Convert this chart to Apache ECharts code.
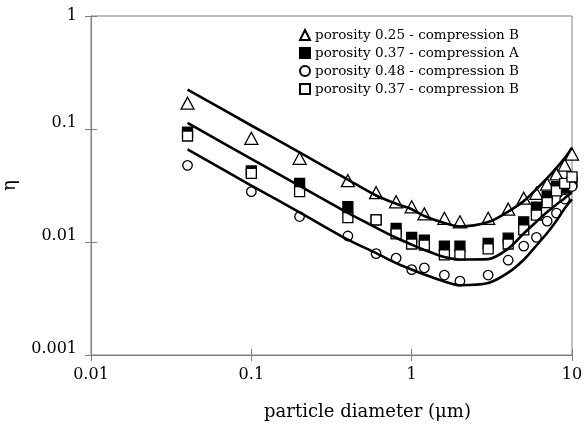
<!DOCTYPE html>
<html>
<head>
<meta charset="utf-8">
<script src="https://cdn.jsdelivr.net/npm/echarts@6/dist/echarts.min.js"></script>
<style>
  html, body { margin: 0; padding: 0; background: #fff; }
  #main { width: 585px; height: 426px; }
</style>
</head>
<body>
<div id="main"></div>
<script>
  // particle diameters (um)
  var diameters = [0.04, 0.1, 0.2, 0.4, 0.6, 0.8, 1, 1.2, 1.6, 2, 3, 4, 5, 6, 7, 8, 9, 10];

  // measured efficiencies
  var por025B = [0.169, 0.0827, 0.055, 0.0349, 0.0273, 0.0227, 0.0205, 0.0177, 0.0162, 0.0151, 0.0162, 0.0195, 0.0244, 0.027, 0.0326, 0.040, 0.048, 0.060];
  var por037A = [0.094, 0.0425, 0.033, 0.0205, 0.0157, 0.0132, 0.011, 0.0104, 0.0092, 0.0092, 0.0097, 0.0108, 0.0151, 0.0203, 0.0252, 0.0309, 0.030, 0.034];
  var por048B = [0.0477, 0.0279, 0.0168, 0.0113, 0.0079, 0.0072, 0.0057, 0.0059, 0.0051, 0.0045, 0.0051, 0.0069, 0.0092, 0.011, 0.0153, 0.018, 0.024, 0.031];
  var por037B = [0.0867, 0.0405, 0.0279, 0.0164, 0.0157, 0.0118, 0.0096, 0.0094, 0.0077, 0.0077, 0.0087, 0.0096, 0.0128, 0.0173, 0.0223, 0.0284, 0.033, 0.0377];

  // model curves
  var modelTop = [0.2235, 0.1074, 0.0620, 0.0356, 0.0258, 0.0218, 0.0195, 0.0170, 0.0147, 0.0137, 0.0150, 0.0186, 0.0230, 0.0294, 0.0367, 0.0452, 0.0552, 0.0684];
  var modelMid = [0.1132, 0.0544, 0.0314, 0.0181, 0.0134, 0.0109, 0.00947, 0.00851, 0.00736, 0.00699, 0.00706, 0.00874, 0.0119, 0.0151, 0.0184, 0.0215, 0.0244, 0.0275];
  var modelLow = [0.0659, 0.0316, 0.0183, 0.0105, 0.00798, 0.0065, 0.0057, 0.00515, 0.00448, 0.00414, 0.00433, 0.00535, 0.00697, 0.00931, 0.0120, 0.0154, 0.0198, 0.0239];

  var legendNames = [
    'porosity 0.25 - compression B',
    'porosity 0.37 - compression A',
    'porosity 0.48 - compression B',
    'porosity 0.37 - compression B'
  ];

  function pairs(ys) {
    return diameters.map(function (x, i) { return [x, ys[i]]; });
  }

  var myChart = echarts.init(document.getElementById('main'));
  var font = 'DejaVu Serif';
  var gray = '#808080';

  function scatter(name, ys, symbol, size, fill) {
    return {
      name: name,
      type: 'scatter',
      data: pairs(ys),
      symbol: symbol,
      symbolSize: size,
      itemStyle: { color: fill, borderColor: '#000', borderWidth: 1.3, opacity: 1 },
      z: 3
    };
  }

  function model(ys) {
    return {
      type: 'line',
      data: pairs(ys),
      smooth: 0.3,
      symbol: 'none',
      lineStyle: { color: '#000', width: 2.6 },
      silent: true,
      z: 4
    };
  }

  var option = {
    animation: false,
    backgroundColor: '#fff',
    grid: {
      left: 91, right: 13, top: 16, bottom: 71,
      outerBoundsMode: 'none', containLabel: false,
      show: true, borderColor: gray, borderWidth: 1
    },
    legend: {
      data: legendNames,
      orient: 'vertical',
      left: 294,
      top: 23,
      itemWidth: 10,
      itemHeight: 10,
      itemGap: 4,
      textStyle: { fontFamily: font, fontSize: 13.5, color: '#000' }
    },
    xAxis: [
      {
        type: 'log',
        min: 0.01,
        max: 10,
        logBase: 10,
        name: 'particle diameter (\u03bcm)',
        nameLocation: 'middle',
        nameGap: 48,
        nameTextStyle: { fontFamily: font, fontSize: 18, color: '#000', padding: [0, 0, 0, 72] },
        axisLine: { lineStyle: { color: gray } },
        axisTick: { length: 6, lineStyle: { color: gray } },
        axisLabel: { fontFamily: font, fontSize: 16, color: '#000', margin: 12 },
        splitLine: { show: false },
        minorTick: { show: false }
      },
      {
        type: 'log',
        min: 0.01,
        max: 10,
        position: 'bottom',
        axisLine: { show: false },
        axisTick: { inside: true, length: 6, lineStyle: { color: gray } },
        axisLabel: { show: false },
        splitLine: { show: false }
      }
    ],
    yAxis: [
      {
        type: 'log',
        min: 0.001,
        max: 1,
        logBase: 10,
        name: '\u03b7',
        nameLocation: 'middle',
        nameGap: 72,
        nameRotate: 90,
        nameTextStyle: { fontFamily: font, fontSize: 18, color: '#000' },
        axisLine: { show: true, lineStyle: { color: gray } },
        axisTick: { show: true, length: 6, lineStyle: { color: gray } },
        axisLabel: {
          fontFamily: font, fontSize: 16, color: '#000', margin: 14,
          formatter: function (value) {
            var s = String(+value.toPrecision(6));
            return value > 0.5 ? '{top|' + s + '}' : '{up|' + s + '}';
          },
          rich: {
            top: { fontFamily: font, fontSize: 16, color: '#000' },
            up: { fontFamily: font, fontSize: 16, color: '#000', padding: [0, 0, 13, 0] }
          }
        },
        splitLine: { show: false }
      },
      {
        type: 'log',
        min: 0.001,
        max: 1,
        position: 'left',
        axisLine: { show: false },
        axisTick: { show: true, inside: true, length: 6, lineStyle: { color: gray } },
        axisLabel: { show: false },
        splitLine: { show: false }
      }
    ],
    series: [
      scatter(legendNames[0], por025B, 'triangle', [13, 12], '#fff'),
      scatter(legendNames[1], por037A, 'rect', 10, '#000'),
      scatter(legendNames[2], por048B, 'circle', 9.5, '#fff'),
      scatter(legendNames[3], por037B, 'rect', 10, '#fff'),
      model(modelTop),
      model(modelMid),
      model(modelLow)
    ]
  };

  myChart.setOption(option);
</script>
</body>
</html>
